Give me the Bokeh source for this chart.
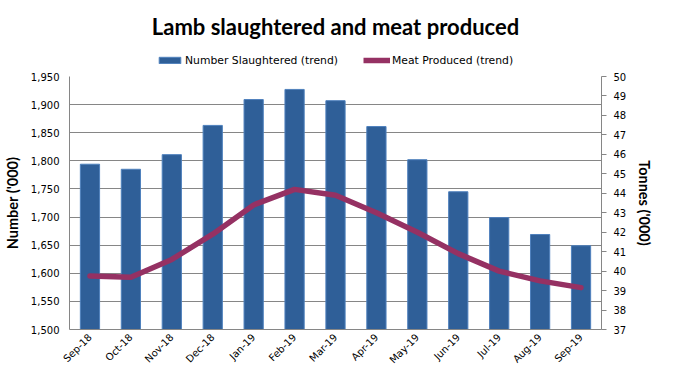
import math
from bokeh.plotting import figure
from bokeh.layouts import column
from bokeh.models import (Range1d, LinearAxis, FixedTicker, NumeralTickFormatter,
                          FactorRange, Legend, LegendItem, ColumnDataSource, Label)
from bokeh.embed import file_html
from bokeh.resources import INLINE

months = ["Sep-18", "Oct-18", "Nov-18", "Dec-18", "Jan-19", "Feb-19", "Mar-19",
          "Apr-19", "May-19", "Jun-19", "Jul-19", "Aug-19", "Sep-19"]
number_slaughtered = [1794, 1785, 1811, 1863, 1909, 1927, 1907, 1861, 1802, 1745, 1699, 1669, 1649]
meat_produced = [39.75, 39.68, 40.6, 41.9, 43.4, 44.2, 43.9, 43.0, 42.0, 40.9, 40.0, 39.5, 39.15]
left_ticks = list(range(1500, 1951, 50))
right_ticks = list(range(37, 51))
title_text = "Lamb slaughtered and meat produced"
series_names = ["Number Slaughtered (trend)", "Meat Produced (trend)"]

BAR_FILL = "#2F5F98"
BAR_LINE = "#4F81BD"
LINE_COLOR = "#953163"

src = ColumnDataSource(dict(m=months, n=number_slaughtered, t=meat_produced))

# ---------- header (title + legend) ----------
hdr = figure(width=659, height=69, x_range=FactorRange(*months), y_range=Range1d(0, 1),
             x_axis_type=None, y_axis_type=None, output_backend="svg",
             toolbar_location=None, min_border=0)
hdr.outline_line_color = None
hdr.xgrid.visible = False
hdr.ygrid.visible = False
hb = hdr.vbar(x="m", top="n", bottom=1500, width=0.47, source=src,
              fill_color=BAR_FILL, line_color=BAR_LINE, visible=False)
hl = hdr.line(x="m", y="t", source=src, line_color=LINE_COLOR, line_width=5.5,
              visible=False)
hdr.add_layout(Label(x=266, y=43, x_units="screen", y_units="screen", text=title_text,
                     text_font="Lato", text_font_size="22px", text_font_style="bold",
                     text_color="black", text_align="center", text_baseline="middle"))
legend = Legend(items=[LegendItem(label=series_names[0], renderers=[hb]),
                       LegendItem(label=series_names[1], renderers=[hl])],
                location=(87, 2), orientation="horizontal",
                padding=0, margin=0, spacing=25, glyph_width=27, glyph_height=8,
                label_height=14, label_standoff=2,
                label_text_font="DejaVu Sans", label_text_font_size="10.8px",
                label_text_color="black", inactive_fill_alpha=0,
                border_line_color=None, background_fill_alpha=0)
hdr.add_layout(legend, "center")

# ---------- main chart ----------
p = figure(frame_width=532, frame_height=253, x_range=FactorRange(*months),
           y_range=Range1d(1500, 1950), output_backend="svg", toolbar_location=None,
           min_border_left=64, min_border_right=60, min_border_top=7, min_border_bottom=40)
p.extra_y_ranges = {"t": Range1d(37, 50)}
p.outline_line_color = None

p.vbar(x="m", top="n", bottom=1500, width=0.47, source=src,
       fill_color=BAR_FILL, line_color=BAR_LINE, line_width=1)
p.line(x="m", y="t", source=src, y_range_name="t",
       line_color=LINE_COLOR, line_width=5.5, line_join="round", line_cap="round")

ya = p.yaxis[0]
ya.ticker = FixedTicker(ticks=left_ticks)
ya.formatter = NumeralTickFormatter(format="0,0")
ya.major_tick_out = 0
ya.major_tick_in = 0
ya.minor_tick_out = 0
ya.minor_tick_in = 0
ya.axis_line_color = "#868686"
ya.major_label_text_font = "DejaVu Sans"
ya.major_label_text_font_size = "10px"
ya.major_label_text_color = "black"
ya.major_label_standoff = 10
ya.axis_label = "Number ('000)"
ya.axis_label_text_font = "Lato"
ya.axis_label_text_font_size = "14.5px"
ya.axis_label_text_font_style = "bold"
ya.axis_label_text_color = "black"
ya.axis_label_standoff = 7

ra = LinearAxis(y_range_name="t", ticker=FixedTicker(ticks=right_ticks))
ra.major_tick_out = 5
ra.major_tick_in = 0
ra.minor_tick_out = 0
ra.minor_tick_in = 0
ra.major_tick_line_color = "#868686"
ra.axis_line_color = "#868686"
ra.major_label_text_font = "DejaVu Sans"
ra.major_label_text_font_size = "10px"
ra.major_label_text_color = "black"
ra.major_label_standoff = 7
ra.axis_label = "Tonnes ('000)"
ra.axis_label_text_font = "Lato"
ra.axis_label_text_font_size = "14.5px"
ra.axis_label_text_font_style = "bold"
ra.axis_label_text_color = "black"
ra.axis_label_standoff = 7
p.add_layout(ra, "right")

xa = p.xaxis[0]
xa.major_tick_out = 0
xa.major_tick_in = 0
xa.axis_line_color = "#868686"
xa.major_label_orientation = math.pi / 4
xa.major_label_text_font = "DejaVu Sans"
xa.major_label_text_font_size = "10px"
xa.major_label_text_color = "black"
xa.major_label_standoff = 6

p.xgrid.grid_line_color = None
p.ygrid.grid_line_color = "#868686"
p.ygrid.grid_line_width = 1

layout = column(hdr, p, spacing=0)
open("out.html", "w").write(file_html(layout, INLINE))
